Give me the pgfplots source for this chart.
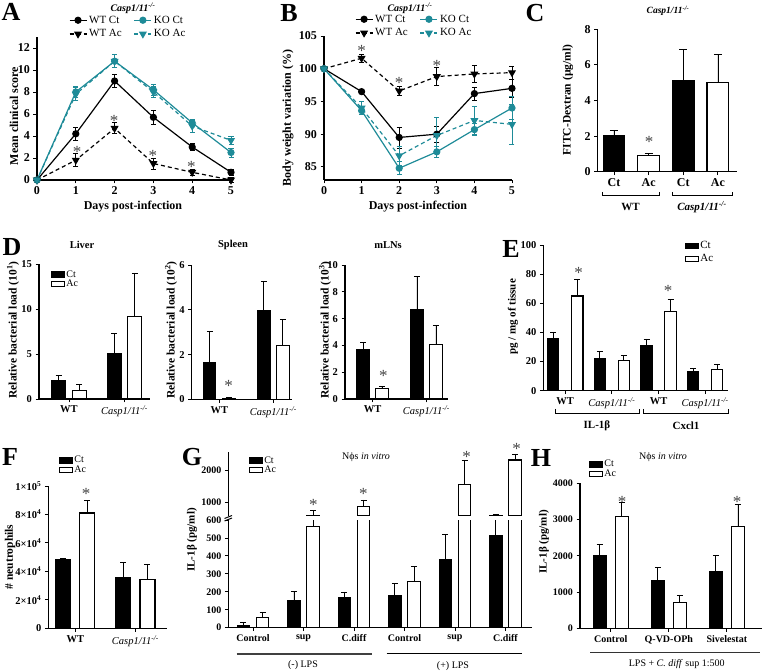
\documentclass[border=0pt]{standalone}
\usepackage{pgfplots}
\pgfplotsset{compat=1.18}
\usepackage{fontspec}
\setmainfont{Liberation Serif}
\definecolor{kot}{RGB}{30,139,152}
\definecolor{stg}{RGB}{70,70,70}
\newcommand{\fs}[1]{\fontsize{#1bp}{#1bp}\selectfont}
\newcommand{\casp}{Casp1/11\textsuperscript{-/-}}
\pgfplotsset{
  gp/.style={scale only axis, anchor=south west,
    axis x line*=bottom, axis y line*=left,
    tick align=outside, major tick length=3.5bp,
    every tick/.style={black, line width=0.9pt},
    axis line style={line width=1.1pt, black},
    /pgf/number format/assume math mode=true,
    /pgf/number format/1000 sep={},
    scaled ticks=false,
    tick label style={font=\fs{10.5}\bfseries, black},
    clip=false},
  lerr/.style={error bars/.cd, y dir=both, y explicit,
    error bar style={line width=0.7pt, solid},
    error mark options={rotate=90, mark size=2.5bp, line width=0.7pt, solid}},
  berr/.style={error bars/.cd, y dir=plus, y explicit,
    error bar style={line width=0.8pt, black},
    error mark options={rotate=90, mark size=#1, line width=0.8pt, black}},
  berr/.default=3bp,
  ctb/.style={ybar, bar width=#1, fill=black, draw=black, line width=1pt, forget plot},
  acb/.style={ybar, bar width=#1, fill=white, draw=black, line width=1.1pt, forget plot},
  barleg/.style={legend cell align=left,
    legend style={draw=none, fill=none, font=\fs{10}, inner sep=0pt, row sep=-1bp,
      nodes={inner sep=1.2bp}},
    legend image code/.code={\draw[##1] (0bp,-2.6bp) rectangle (13bp,2.6bp);}},
}
\begin{document}
\begin{tikzpicture}
\useasboundingbox (0,0) rectangle (763bp,671bp);

% ---------------- A ----------------
\begin{axis}[gp, at={(37bp,491bp)}, width=194bp, height=143bp,
  xmin=0, xmax=5, ymin=0, ymax=13, xtick={0,...,5}, ytick={0,2,...,12},
  tick label style={font=\fs{12}\bfseries},
  legend columns=2, legend cell align=left,
  legend style={at={(0.47,0.975)}, anchor=south, draw=none, fill=none, font=\fs{11}, inner sep=0pt,
    row sep=1bp, /tikz/every even column/.append style={column sep=10bp}}]
\addplot[black, line width=1.2pt, mark=*, mark size=3bp, lerr] coordinates {
 (0,0) +- (0,0) (1,4.2) +- (0,0.6) (2,9.0) +- (0,0.6) (3,5.7) +- (0,0.6) (4,3.0) +- (0,0.3) (5,0.7) +- (0,0.3)};
\addlegendentry{WT Ct}
\addplot[kot, line width=1.2pt, mark=*, mark size=3bp, lerr] coordinates {
 (0,0) +- (0,0) (1,8.0) +- (0,0.5) (2,10.8) +- (0,0.6) (3,8.2) +- (0,0.5) (4,5.2) +- (0,0.3) (5,2.5) +- (0,0.4)};
\addlegendentry{KO Ct}
\addplot[black, line width=1.2pt, dash pattern=on 4bp off 3bp, mark=triangle*, mark size=3.5bp, mark options={solid, rotate=180}, lerr] coordinates {
 (0,0) +- (0,0) (1,1.8) +- (0,0.6) (2,4.7) +- (0,0.5) (3,1.5) +- (0,0.5) (4,0.7) +- (0,0.3) (5,0) +- (0,0.2)};
\addlegendentry{WT Ac}
\addplot[kot, line width=1.2pt, dash pattern=on 4bp off 3bp, mark=triangle*, mark size=3.5bp, mark options={solid, rotate=180}, lerr] coordinates {
 (0,0) +- (0,0) (1,7.8) +- (0,0.6) (2,10.8) +- (0,0.6) (3,8.0) +- (0,0.5) (4,4.9) +- (0,0.6) (5,3.6) +- (0,0.4)};
\addlegendentry{KO Ac}
\end{axis}

% ---------------- B ----------------
\begin{axis}[gp, at={(324bp,491bp)}, width=188bp, height=144bp,
  xmin=0, xmax=5, ymin=83, ymax=105, xtick={0,...,5}, ytick={85,90,...,105},
  tick label style={font=\fs{12}\bfseries},
  legend columns=2, legend cell align=left,
  legend style={at={(0.48,0.975)}, anchor=south, draw=none, fill=none, font=\fs{11}, inner sep=0pt,
    row sep=1bp, /tikz/every even column/.append style={column sep=10bp}}]
\addplot[black, line width=1.2pt, mark=*, mark size=3bp, lerr] coordinates {
 (0,100) +- (0,0) (1,96.5) +- (0,0.2) (2,89.5) +- (0,1.6) (3,90.0) +- (0,1.2) (4,96.2) +- (0,1.0) (5,97.0) +- (0,1.4)};
\addlegendentry{WT Ct}
\addplot[kot, line width=1.2pt, mark=*, mark size=3bp, lerr] coordinates {
 (0,100) +- (0,0) (1,93.6) +- (0,0.5) (2,84.8) +- (0,1.0) (3,87.3) +- (0,0.9) (4,90.7) +- (0,0.9) (5,94.0) +- (0,1.8)};
\addlegendentry{KO Ct}
\addplot[black, line width=1.2pt, dash pattern=on 4bp off 3bp, mark=triangle*, mark size=3.5bp, mark options={solid, rotate=180}, lerr] coordinates {
 (0,100) +- (0,0) (1,101.6) +- (0,0.6) (2,96.6) +- (0,0.7) (3,98.8) +- (0,1.4) (4,99.2) +- (0,1.3) (5,99.4) +- (0,1.0)};
\addlegendentry{WT Ac}
\addplot[kot, line width=1.2pt, dash pattern=on 4bp off 3bp, mark=triangle*, mark size=3.5bp, mark options={solid, rotate=180}, lerr] coordinates {
 (0,100) +- (0,0) (1,94.0) +- (0,1.0) (2,86.7) +- (0,1.5) (3,89.8) +- (0,2.8) (4,92.1) +- (0,2.2) (5,91.5) +- (0,3.0)};
\addlegendentry{KO Ac}
\end{axis}

% ---------------- C ----------------
\begin{axis}[gp, at={(597.7bp,499.3bp)}, width=139.3bp, height=142.4bp,
  xmin=-0.47, xmax=3.55, ymin=0, ymax=8, ytick={0,2,...,8},
  xtick={0,1,2,3}, xticklabels={Ct,Ac,Ct,Ac}, tick label style={font=\fs{12}\bfseries}]
\addplot[ctb=0.63, berr=4bp] coordinates {(0,2.05) +- (0,0.25) (2,5.15) +- (0,1.7)};
\addplot[acb=0.63, berr=4bp] coordinates {(1,0.9) +- (0,0.1) (3,5.0) +- (0,1.6)};
\end{axis}

% ---------------- D Liver ----------------
\begin{axis}[gp, barleg, at={(39bp,272bp)}, width=111bp, height=135bp,
  xmin=0.46, xmax=2.46, ymin=0, ymax=15, ytick={0,5,10,15},
  xtick={1,2}, xticklabels={WT,{\mdseries\itshape\casp}},
  legend style={at={(0.108,0.963)}, anchor=north west}]
\addlegendimage{fill=black, draw=black, line width=1pt}\addlegendentry{Ct}
\addlegendimage{fill=white, draw=black, line width=1pt}\addlegendentry{Ac}
\addplot[ctb=0.25, berr] coordinates {(0.814,2.0) +- (0,0.6) (1.814,5.1) +- (0,2.2)};
\addplot[acb=0.25, berr] coordinates {(1.186,0.9) +- (0,0.7) (2.186,9.2) +- (0,4.8)};
\end{axis}

% ---------------- D Spleen ----------------
\begin{axis}[gp, at={(191.7bp,271.7bp)}, width=100bp, height=134.3bp,
  xmin=0.49, xmax=2.34, ymin=0, ymax=6, ytick={0,2,4,6},
  xtick={1,2}, xticklabels={WT,{\mdseries\itshape\casp}}]
\addplot[ctb=0.23, berr] coordinates {(0.824,1.65) +- (0,1.4) (1.824,3.95) +- (0,1.33)};
\addplot[acb=0.23, berr] coordinates {(1.176,0.05) +- (0,0.03) (2.176,2.42) +- (0,1.13)};
\end{axis}

% ---------------- D mLNs ----------------
\begin{axis}[gp, at={(345bp,272bp)}, width=103bp, height=134bp,
  xmin=0.49, xmax=2.40, ymin=0, ymax=10, ytick={0,2,...,10},
  xtick={1,2}, xticklabels={WT,{\mdseries\itshape\casp}}]
\addplot[ctb=0.23, berr] coordinates {(0.824,3.7) +- (0,0.5) (1.824,6.7) +- (0,2.43)};
\addplot[acb=0.23, berr] coordinates {(1.176,0.75) +- (0,0.2) (2.176,4.08) +- (0,1.44)};
\end{axis}

% ---------------- E ----------------
\begin{axis}[gp, barleg, at={(543.3bp,280.3bp)}, width=184.7bp, height=145.7bp,
  xmin=0.53, xmax=4.49, ymin=0, ymax=100, ytick={0,20,...,100},
  xtick={1,2,3,4}, xticklabels={WT,{\mdseries\itshape\casp},WT,{\mdseries\itshape\casp}},
  legend style={at={(0.767,1.034)}, anchor=north west, font=\fs{11}, row sep=2bp}]
\addlegendimage{fill=black, draw=black, line width=1pt}\addlegendentry{Ct}
\addlegendimage{fill=white, draw=black, line width=1pt}\addlegendentry{Ac}
\addplot[ctb=0.247, berr] coordinates {(0.7425,35.5) +- (0,4.8) (1.7425,22) +- (0,5) (2.7425,31) +- (0,4.5) (3.7425,13) +- (0,2.5)};
\addplot[acb=0.247, berr] coordinates {(1.2575,65) +- (0,11.3) (2.2575,21) +- (0,3.3) (3.2575,54.5) +- (0,8.2) (4.2575,14.8) +- (0,3.2)};
\end{axis}

% ---------------- F ----------------
\begin{axis}[gp, barleg, at={(48.3bp,42.7bp)}, width=118.4bp, height=142.3bp,
  xmin=0.55, xmax=2.52, ymin=0, ymax=100000, ytick={0,20000,...,100000},
  yticklabels={0,2×10\textsuperscript{4},4×10\textsuperscript{4},6×10\textsuperscript{4},8×10\textsuperscript{4},1×10\textsuperscript{5}},
  xtick={1,2}, xticklabels={WT,{\mdseries\itshape\casp}},
  legend style={at={(0.09,1.218)}, anchor=north west}]
\addlegendimage{fill=black, draw=black, line width=1pt}\addlegendentry{Ct}
\addlegendimage{fill=white, draw=black, line width=1pt}\addlegendentry{Ac}
\addplot[ctb=0.25, berr] coordinates {(0.8,48000) +- (0,1000) (1.8,36000) +- (0,10000)};
\addplot[acb=0.25, berr] coordinates {(1.2,81000) +- (0,9000) (2.2,34500) +- (0,10300)};
\end{axis}

% ---------------- G lower ----------------
\begin{axis}[gp, clip=true, at={(228.3bp,43.3bp)}, width=303.4bp, height=107.7bp,
  xmin=0.51, xmax=6.52, ymin=0, ymax=600, ytick={0,100,...,600},
  tick label style={font=\fs{10}\bfseries},
  xtick={1,...,6}, xticklabels={Control,sup,C.diff,Control,sup,C.diff}]
\addplot[ctb=0.245, berr] coordinates {(0.81,15) +- (0,13) (1.81,154) +- (0,49) (2.81,169) +- (0,30) (3.81,180) +- (0,67) (4.81,381) +- (0,139)};
\addplot[ctb=0.245] coordinates {(5.81,515)};
\addplot[draw=none, mark=none, forget plot, error bars/.cd, y dir=plus, y explicit, error mark=none,
  error bar style={line width=0.8pt, black}] coordinates {(5.81,515) +- (0,85)};
\addplot[acb=0.245, berr] coordinates {(1.19,58) +- (0,26) (4.19,255) +- (0,85)};
\addplot[acb=0.245] coordinates {(2.19,563) (3.19,878) (5.19,1563) (6.19,2306)};
\addplot[draw=none, mark=none, forget plot, error bars/.cd, y dir=plus, y explicit, error mark=none,
  error bar style={line width=0.8pt, black}] coordinates {(2.19,563) +- (0,37)};
\end{axis}

% ---------------- G upper ----------------
\begin{axis}[gp, barleg, clip=true, at={(228.3bp,155.2bp)}, width=303.4bp, height=63.8bp,
  axis x line=none, xmin=0.51, xmax=6.52, ymin=600, ymax=2550, ytick={1000,2000},
  tick label style={font=\fs{10}\bfseries},
  legend style={at={(0.068,0.953)}, anchor=north west}]
\addlegendimage{fill=black, draw=black, line width=1pt}\addlegendentry{Ct}
\addlegendimage{fill=white, draw=black, line width=1pt}\addlegendentry{Ac}
\addplot[ctb=0.245, berr] coordinates {(5.81,515) +- (0,139)};
\addplot[acb=0.245, berr] coordinates {(2.19,563) +- (0,214) (3.19,878) +- (0,205) (5.19,1563) +- (0,721) (6.19,2306) +- (0,184)};
\end{axis}

% ---------------- H ----------------
\begin{axis}[gp, barleg, at={(580bp,42.7bp)}, width=181.7bp, height=145bp,
  xmin=0.47, xmax=3.6, ymin=0, ymax=4000, ytick={0,1000,...,4000},
  tick label style={font=\fs{10}\bfseries},
  xtick={1,2,3}, xticklabels={Control,Q-VD-OPh,Sivelestat},
  legend style={at={(0.05,1.168)}, anchor=north west}]
\addlegendimage{fill=black, draw=black, line width=1pt}\addlegendentry{Ct}
\addlegendimage{fill=white, draw=black, line width=1pt}\addlegendentry{Ac}
\addplot[ctb=0.224, berr] coordinates {(0.81,2000) +- (0,310) (1.81,1330) +- (0,340) (2.81,1560) +- (0,440)};
\addplot[acb=0.224, berr] coordinates {(1.19,3080) +- (0,380) (2.19,700) +- (0,220) (3.19,2820) +- (0,600)};
\end{axis}

% ---------------- annotations (pixel coordinates, y down) ----------------
\begin{scope}[x=1bp, y=-1bp, shift={(0,671bp)}]
\tikzset{lt/.style={font=\fs{26}\bfseries, inner sep=0pt},
         yl/.style={rotate=90, inner sep=0pt},
         st/.style={font=\fs{17}, text=stg, inner sep=0pt, yshift=-3bp}}
% panel letters
\node[lt] at (11,12) {A};
\node[lt] at (289,13) {B};
\node[lt] at (535,13) {C};
\node[lt] at (12,247) {D};
\node[lt] at (511,249) {E};
\node[lt] at (10,457) {F};
\node[lt] at (192,457) {G};
\node[lt] at (541,458) {H};
% titles
\node[font=\fs{10}\bfseries\itshape] at (133,8) {\casp};
\node[font=\fs{10}\bfseries\itshape] at (410,8) {\casp};
\node[font=\fs{9.5}\bfseries\itshape] at (668,11) {\casp};
\node[font=\fs{10.5}\bfseries] at (82,245) {Liver};
\node[font=\fs{10.5}\bfseries] at (233,245) {Spleen};
\node[font=\fs{10.5}\bfseries] at (388,245) {mLNs};
\node[font=\fs{10}] at (366,457) {Nϕs \textit{in vitro}};
\node[font=\fs{10}] at (663,457) {Nϕs \textit{in vitro}};
% axis titles
\node[yl, font=\fs{12}\bfseries] at (14,116) {Mean clinical score};
\node[font=\fs{12}\bfseries] at (133,207) {Days post-infection};
\node[yl, font=\fs{12}\bfseries] at (288,118) {Body weight variation (\%)};
\node[font=\fs{12}\bfseries] at (418,207) {Days post-infection};
\node[yl, font=\fs{11.5}\bfseries] at (568,100) {FITC-Dextran (µg/ml)};
\node[yl, font=\fs{11.5}\bfseries] at (13,330) {Relative bacterial load (10\textsuperscript{1})};
\node[yl, font=\fs{11.5}\bfseries] at (171,330) {Relative bacterial load (10\textsuperscript{2})};
\node[yl, font=\fs{11.5}\bfseries] at (325,330) {Relative bacterial load (10\textsuperscript{3})};
\node[yl, font=\fs{11}\bfseries] at (513,317) {pg / mg of tissue};
\node[yl, font=\fs{11.5}\bfseries] at (10,557) {\# neutrophils};
\node[yl, font=\fs{11}\bfseries] at (192,540) {IL-1β (pg/ml)};
\node[yl, font=\fs{11}\bfseries] at (544,542) {IL-1β (pg/ml)};
% brackets C
\draw[line width=1pt] (602,192) -- (602,196) -- (659,196) -- (659,192);
\draw[line width=1pt] (672,192) -- (672,196) -- (732,196) -- (732,192);
\node[font=\fs{11}\bfseries] at (630.5,207) {WT};
\node[font=\fs{11}\bfseries\itshape] at (702,207) {\casp};
% brackets E
\draw[line width=1pt] (555,409) -- (555,414) -- (639.3,414) -- (639.3,409);
\draw[line width=1pt] (643.3,409) -- (643.3,414) -- (728.3,414) -- (728.3,409);
\node[font=\fs{11}\bfseries] at (597,426) {IL-1β};
\node[font=\fs{11}\bfseries] at (686,426) {Cxcl1};
% G lines
\draw[line width=1.2pt, black!75] (236.7,654) -- (371.7,654);
\draw[line width=0.8pt] (386.7,653) -- (521.7,653);
\node[font=\fs{10}] at (303,665) {(-) LPS};
\node[font=\fs{10}] at (453,666) {(+) LPS};
% G axis break
\fill[white] (224,516.3) rectangle (233,519.5);
\draw[line width=1pt] (224.5,518.5) -- (232,515.5);
\draw[line width=1pt] (224.5,521) -- (232,518);
% H line
\draw[line width=0.8pt, black!80] (590,652.3) -- (760,652.3);
\node[font=\fs{10}] at (676.7,664) {LPS + \textit{C. diff} sup 1:500};
% stars
\node[st] at (77,149) {*};
\node[st] at (114.2,118) {*};
\node[st] at (152.8,153) {*};
\node[st] at (191.4,164) {*};
\node[st] at (361.6,48) {*};
\node[st] at (399.2,80) {*};
\node[st] at (436.8,63) {*};
\node[st] at (649,139) {*};
\node[st] at (228.7,383) {*};
\node[st] at (383.3,373) {*};
\node[st] at (578.7,270) {*};
\node[st] at (668,288) {*};
\node[st] at (86,491) {*};
\node[st] at (313.3,502) {*};
\node[st] at (363.3,491) {*};
\node[st] at (466.7,454) {*};
\node[st] at (516.7,446) {*};
\node[st] at (622,499) {*};
\node[st] at (737,499) {*};
\end{scope}
\end{tikzpicture}
\end{document}
